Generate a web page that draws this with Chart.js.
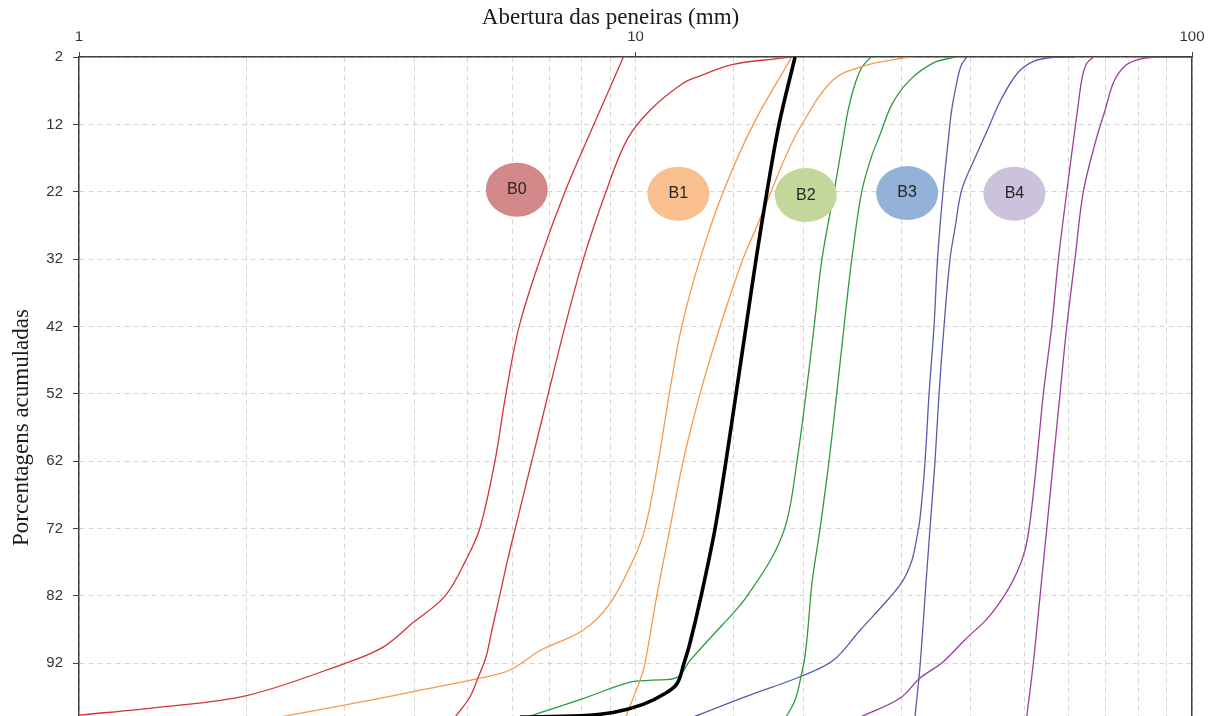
<!DOCTYPE html>
<html>
<head>
<meta charset="utf-8">
<title>Curvas granulométricas</title>
<script src="https://cdn.jsdelivr.net/npm/chart.js@4/dist/chart.umd.min.js"></script>
<style>
  html, body { margin: 0; padding: 0; background: #ffffff; overflow: hidden; }
  #frame { width: 1221px; height: 716px; overflow: hidden; position: relative; }
  canvas { display: block; }
</style>
</head>
<body>
<!-- The plot runs on below the visible frame; only the upper part (down to 100 %) is shown -->
<div id="frame"><canvas id="grading" width="1221" height="798"></canvas></div>
<script>
// Axis texts and ticks
const xTitle = 'Abertura das peneiras (mm)';
const yTitle = 'Porcentagens acumuladas';
const yTickValues = [2, 12, 22, 32, 42, 52, 62, 72, 82, 92];
const yMin = 2, yMax = 112;

// Band labels (B0 … B4) placed inside the chart
const bandNames = ['B0', 'B1', 'B2', 'B3', 'B4'];
const bandLabelSize = [6.12, 11.94, 20.23, 30.77, 47.97];
const bandLabelPct = [21.7, 22.3, 22.5, 22.2, 22.3];

// Reference curve (thick black)
const refSizes = [6.20, 7.95, 9.11, 10.32, 11.30, 11.88, 12.22, 12.53, 13.12, 13.90, 14.54, 15.16, 15.80, 16.47, 17.23, 18.11, 19.35];
const refPct   = [100, 99.8, 99.3, 98.1, 96.5, 95.0, 92.0, 89.0, 82.0, 72.0, 62.0, 52.0, 42.0, 32.0, 22.0, 12.0, 2.0];

// B0 limits
const b0FineSizes = [1.00, 1.40, 2.00, 3.01, 3.52, 3.98, 4.55, 4.97, 5.25, 5.59, 5.85, 6.18, 6.74, 7.47, 8.42, 9.51];
const b0FinePct   = [99.7, 98.5, 96.8, 92.0, 89.6, 86.0, 82.0, 76.5, 72.0, 62.0, 52.0, 42.0, 32.0, 22.0, 12.0, 2.0];
const b0CoarseSizes = [4.74, 5.04, 5.21, 5.39, 5.53, 5.70, 5.89, 6.08, 6.51, 6.97, 7.47, 8.06, 8.85, 9.65, 10.62, 12.17, 13.06, 14.97, 18.18, 19.11];
const b0CoarsePct   = [100, 97.0, 94.2, 91.0, 86.8, 82.0, 76.7, 72.0, 62.0, 52.0, 42.0, 32.0, 22.0, 14.3, 9.9, 5.9, 4.8, 3.1, 2.2, 2.0];

// B1 limits
const b1FineSizes = [2.29, 3.47, 4.10, 5.25, 5.95, 6.74, 8.05, 9.00, 9.90, 10.40, 10.99, 11.50, 12.11, 13.06, 14.38, 16.28, 19.09];
const b1FinePct   = [100, 97.2, 96.0, 94.2, 93.0, 90.1, 87.1, 83.1, 76.7, 72.0, 62.0, 52.0, 42.0, 32.0, 22.0, 12.0, 2.0];
const b1CoarseSizes = [9.60, 10.19, 10.40, 10.92, 11.53, 12.18, 13.06, 14.19, 15.60, 16.53, 17.52, 18.56, 19.75, 22.64, 26.06, 29.50, 31.52];
const b1CoarsePct   = [100, 94.5, 92.0, 82.0, 72.0, 62.0, 52.0, 42.0, 32.0, 27.1, 22.0, 17.0, 12.5, 5.4, 3.2, 2.3, 2.0];

// B2 limits
const b2FineSizes = [6.38, 7.95, 9.78, 10.75, 11.88, 12.53, 13.78, 14.97, 15.84, 17.67, 18.72, 19.51, 20.25, 20.94, 21.63, 22.74, 23.59, 24.09, 24.80, 25.53, 26.50];
const b2FinePct   = [100, 97.4, 94.8, 94.5, 94.1, 91.6, 87.8, 84.6, 82.1, 76.0, 70.8, 62.0, 52.0, 42.0, 32.0, 22.0, 14.3, 10.0, 6.0, 3.5, 2.0];
const b2CoarseSizes = [18.64, 19.35, 19.83, 20.16, 20.42, 20.76, 21.46, 22.27, 22.99, 23.70, 24.47, 25.50, 26.50, 27.51, 28.91, 31.13, 34.24, 37.51];
const b2CoarsePct   = [100, 97.5, 94.0, 91.0, 86.7, 80.0, 72.0, 62.0, 52.0, 42.0, 32.0, 22.0, 17.0, 13.5, 9.0, 5.4, 2.9, 2.0];

// B3 limits
const b3FineSizes = [12.69, 15.73, 19.75, 22.64, 25.32, 28.66, 30.25, 31.39, 31.92, 32.45, 33.14, 33.69, 34.39, 34.89, 35.69, 36.48, 36.99, 37.76, 38.46, 39.37];
const b3FinePct   = [100, 97.0, 94.0, 91.6, 87.1, 82.2, 79.7, 76.7, 74.0, 70.5, 62.0, 52.0, 42.0, 32.0, 22.0, 14.3, 9.9, 5.9, 3.3, 2.0];
const b3CoarseSizes = [31.78, 32.45, 33.14, 33.82, 34.53, 35.11, 35.84, 36.74, 37.51, 38.57, 40.74, 42.82, 45.38, 48.68, 52.02, 56.26, 61.62];
const b3CoarsePct   = [100, 92.5, 82.0, 72.0, 62.0, 52.0, 42.0, 32.0, 27.4, 21.7, 17.0, 13.0, 8.3, 4.3, 2.6, 2.05, 2.0];

// B4 limits
const b4FineSizes = [25.32, 29.87, 32.45, 35.69, 39.09, 42.82, 46.13, 48.48, 50.11, 51.16, 52.60, 54.06, 55.96, 57.54, 59.56, 61.25, 62.26, 63.43, 64.62, 66.48];
const b4FinePct   = [100, 97.2, 94.2, 91.8, 88.5, 85.4, 81.8, 78.5, 75.2, 71.0, 62.0, 52.0, 42.0, 32.0, 22.0, 14.3, 9.9, 5.2, 3.0, 2.0];
const b4CoarseSizes = [50.46, 51.86, 53.33, 54.83, 56.35, 57.92, 59.56, 61.62, 63.79, 67.23, 69.79, 72.43, 76.12, 80.64, 87.59, 100];
const b4CoarsePct   = [100, 92.0, 82.0, 72.0, 62.0, 52.0, 42.0, 32.0, 22.0, 14.3, 9.9, 5.6, 3.2, 2.3, 2.0, 2.0];

// Styling
const RED = '#d2343a', ORANGE = '#f39a4e', GREEN = '#2f9a3c', BLUE = '#5a5ca8', PURPLE = '#9c3c9e';
const bandFill = ['#d38889', '#f9bf8e', '#c4d79b', '#93b2d7', '#cdc2dc'];
const AXIS = '#404040', GRID = '#d4d4d4', TEXT = '#333333', TITLE = '#1a1a1a';
const SERIF = '"Liberation Serif", "Times New Roman", serif';
const SANS = '"Liberation Sans", Arial, sans-serif';

const curves = [
  { label: 'Referência', sizes: refSizes, pct: refPct, color: '#000000', width: 3.6 },
  { label: 'B0 fina', sizes: b0FineSizes, pct: b0FinePct, color: RED, width: 1.3 },
  { label: 'B0 grossa', sizes: b0CoarseSizes, pct: b0CoarsePct, color: RED, width: 1.3 },
  { label: 'B1 fina', sizes: b1FineSizes, pct: b1FinePct, color: ORANGE, width: 1.3 },
  { label: 'B1 grossa', sizes: b1CoarseSizes, pct: b1CoarsePct, color: ORANGE, width: 1.3 },
  { label: 'B2 fina', sizes: b2FineSizes, pct: b2FinePct, color: GREEN, width: 1.3 },
  { label: 'B2 grossa', sizes: b2CoarseSizes, pct: b2CoarsePct, color: GREEN, width: 1.3 },
  { label: 'B3 fina', sizes: b3FineSizes, pct: b3FinePct, color: BLUE, width: 1.3 },
  { label: 'B3 grossa', sizes: b3CoarseSizes, pct: b3CoarsePct, color: BLUE, width: 1.3 },
  { label: 'B4 fina', sizes: b4FineSizes, pct: b4FinePct, color: PURPLE, width: 1.3 },
  { label: 'B4 grossa', sizes: b4CoarseSizes, pct: b4CoarsePct, color: PURPLE, width: 1.3 }
];

const isDecade = v => Math.abs(Math.log10(v) - Math.round(Math.log10(v))) < 1e-9;

// Ellipse tags drawn over the curves
const bandLabelPlugin = {
  id: 'bandLabels',
  afterDatasetsDraw(chart) {
    const { ctx, scales: { x, y } } = chart;
    bandNames.forEach((name, i) => {
      const cx = x.getPixelForValue(bandLabelSize[i]);
      const cy = y.getPixelForValue(bandLabelPct[i]);
      ctx.save();
      ctx.beginPath();
      ctx.ellipse(cx, cy, 31, 27, 0, 0, Math.PI * 2);
      ctx.fillStyle = bandFill[i];
      ctx.fill();
      ctx.fillStyle = '#262626';
      ctx.font = '16px ' + SANS;
      ctx.textAlign = 'center';
      ctx.textBaseline = 'middle';
      ctx.fillText(name, cx, cy);
      ctx.restore();
    });
  }
};

new Chart(document.getElementById('grading'), {
  type: 'line',
  data: {
    datasets: curves.map(c => ({
      label: c.label,
      data: c.sizes.map((s, i) => ({ x: s, y: c.pct[i] })),
      borderColor: c.color,
      backgroundColor: c.color,
      borderWidth: c.width,
      pointRadius: 0,
      pointHoverRadius: 0,
      fill: false,
      tension: 0.35
    }))
  },
  options: {
    responsive: false,
    animation: false,
    devicePixelRatio: 1,
    layout: { autoPadding: false, padding: 0 },
    plugins: {
      legend: { display: false },
      tooltip: { enabled: false },
      title: {
        display: true,
        text: xTitle,
        position: 'top',
        align: 'center',
        color: TITLE,
        font: { family: SERIF, size: 23, weight: 'normal' },
        padding: { top: 4, bottom: 0 }
      }
    },
    scales: {
      x: {
        type: 'logarithmic',
        position: 'top',
        min: 1,
        max: 100,
        afterFit(scale) { scale.height = 25.4; },
        ticks: {
          autoSkip: false,
          maxRotation: 0,
          padding: 6,
          color: TEXT,
          font: { family: SANS, size: 15 },
          callback: v => (isDecade(v) ? String(v) : '')
        },
        grid: {
          color: GRID,
          lineWidth: 1,
          tickLength: 5,
          tickWidth: 1,
          tickColor: ctx => (ctx.tick && isDecade(ctx.tick.value) ? AXIS : 'rgba(0,0,0,0)')
        },
        border: { display: true, color: AXIS, width: 1.5, dash: [5, 4] }
      },
      y: {
        type: 'linear',
        position: 'left',
        reverse: true,
        min: yMin,
        max: yMax,
        afterBuildTicks(scale) { scale.ticks = yTickValues.map(v => ({ value: v })); },
        afterFit(scale) {
          scale.width = 79;
          scale.paddingTop = 0;
          scale.paddingBottom = 0;
        },
        title: {
          display: true,
          text: yTitle,
          color: TITLE,
          font: { family: SERIF, size: 23 },
          padding: { top: 8, bottom: 0 }
        },
        ticks: {
          padding: 10,
          color: TEXT,
          font: { family: SANS, size: 15 }
        },
        grid: {
          color: GRID,
          lineWidth: 1,
          tickLength: 6,
          tickWidth: 1,
          tickColor: AXIS
        },
        border: { display: true, color: AXIS, width: 1.5, dash: [5, 4] }
      },
      yRight: {
        type: 'linear',
        position: 'right',
        reverse: true,
        min: yMin,
        max: yMax,
        afterFit(scale) { scale.width = 29; },
        ticks: { display: false },
        grid: { display: false, drawTicks: false },
        border: { display: true, color: AXIS, width: 1.5 }
      }
    }
  },
  plugins: [bandLabelPlugin]
});
</script>
</body>
</html>
